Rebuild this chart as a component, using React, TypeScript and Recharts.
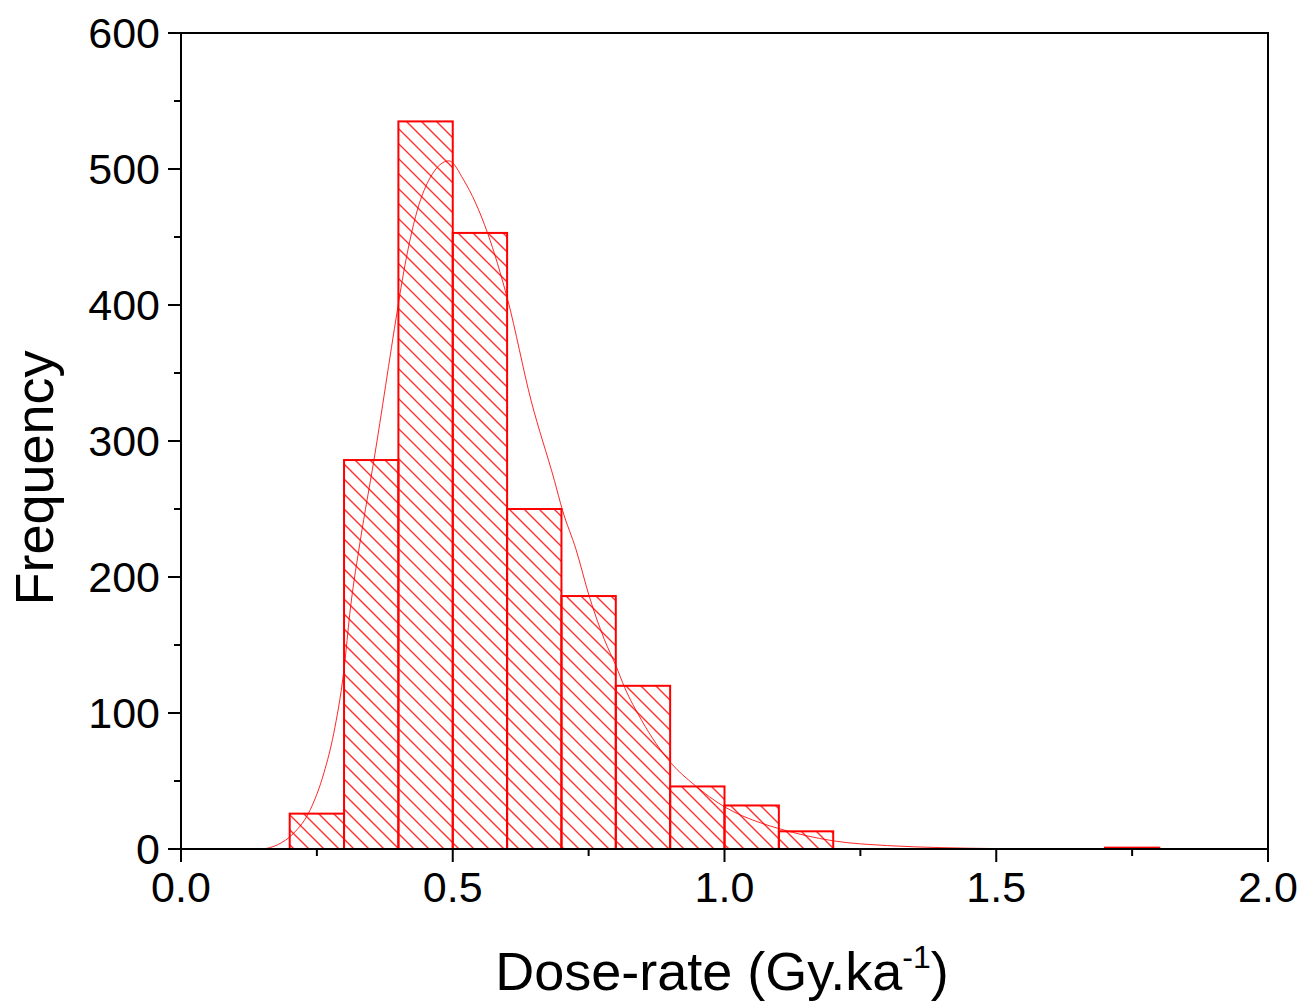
import React from 'react';
import { ComposedChart, XAxis, YAxis, Line, ReferenceArea, Label } from 'recharts';

// Histogram bins (Gy/ka) and counts
const binStarts = [0.2, 0.3, 0.4, 0.5, 0.6, 0.7, 0.8, 0.9, 1.0, 1.1, 1.7];
const binWidth = 0.1;
const counts = [26, 286, 535, 453, 250, 186, 120, 46, 32, 13, 1];

// Fitted curve
const curveX = [0.15, 0.158, 0.177, 0.207, 0.238, 0.263, 0.281, 0.299, 0.312, 0.33, 0.355, 0.398, 0.407, 0.435, 0.459, 0.493, 0.52, 0.564, 0.601, 0.644, 0.687, 0.702, 0.727, 0.751, 0.779, 0.801, 0.816, 0.847, 0.902, 0.945, 1.0, 1.068, 1.1, 1.2, 1.3, 1.4, 1.5, 1.6];
const curveY = [0, 0.5, 3, 11.5, 29, 56, 85, 129, 178, 227, 286, 396, 418, 470, 494, 506, 492, 453, 404, 330, 271, 249, 220, 186, 154, 134, 119, 95, 63, 47, 31, 19, 15, 6, 2.5, 1, 0.3, 0];

const xTicks = [0, 0.25, 0.5, 0.75, 1, 1.25, 1.5, 1.75, 2];
const yTicks = [0, 50, 100, 150, 200, 250, 300, 350, 400, 450, 500, 550, 600];

const curveData = curveX.map((x, i) => ({ x, y: curveY[i] }));
const bins = binStarts.map((s, i) => ({ x1: s, x2: +(s + binWidth).toFixed(2), y: counts[i] }));

const FONT = '"Liberation Sans", Arial, sans-serif';
const RED = '#ff0000';
const HATCH_STEP = 15;

const HatchedRect = (props: any) => {
  const { x, y, width, height, idx } = props;
  if (width == null || height == null) return null;
  const x0 = x, x1 = x + width, y0 = y, y1 = y + height;
  const clipId = `clip-bin-${idx}`;
  const lines: any[] = [];
  const cMin = Math.floor((y0 - x1) / HATCH_STEP) * HATCH_STEP;
  const cMax = Math.ceil((y1 - x0) / HATCH_STEP) * HATCH_STEP;
  for (let c = cMin; c <= cMax; c += HATCH_STEP) {
    lines.push(<line key={c} x1={x0} y1={x0 + c} x2={x1} y2={x1 + c} stroke="#ff3030" strokeWidth={1.4} />);
  }
  return (
    <g>
      <defs>
        <clipPath id={clipId}>
          <rect x={x0} y={y0} width={width} height={height} />
        </clipPath>
      </defs>
      <g clipPath={`url(#${clipId})`}>{lines}</g>
      <rect x={x0} y={y0} width={width} height={height} fill="none" stroke={RED} strokeWidth={2} />
    </g>
  );
};

const YTick = (props: any) => {
  const { x, y, payload } = props;
  const v = payload.value;
  const major = v % 100 === 0;
  return (
    <g>
      <line x1={x} x2={x - (major ? 13 : 7)} y1={y} y2={y} stroke="#000" strokeWidth={2} />
      {major && (
        <text x={x - 21} y={y} textAnchor="end" dominantBaseline="central" fontSize={43} fontFamily={FONT} fill="#000">
          {v}
        </text>
      )}
    </g>
  );
};

const XTick = (props: any) => {
  const { x, y, payload } = props;
  const v = payload.value;
  const major = Math.abs(v * 2 - Math.round(v * 2)) < 1e-6;
  return (
    <g>
      <line x1={x} x2={x} y1={y} y2={y + (major ? 13 : 7)} stroke="#000" strokeWidth={2} />
      {major && (
        <text x={x} y={y + 53} textAnchor="middle" fontSize={43} fontFamily={FONT} fill="#000">
          {v.toFixed(1)}
        </text>
      )}
    </g>
  );
};

const YTitle = () => (
  <text x={53} y={478} transform="rotate(-90 53 478)" textAnchor="middle" fontSize={54} fontFamily={FONT} fill="#000">
    Frequency
  </text>
);

const XTitle = () => (
  <text x={722} y={990} textAnchor="middle" fontSize={54} fontFamily={FONT} fill="#000">
    Dose-rate (Gy.ka
    <tspan fontSize={32} dy={-22}>-1</tspan>
    <tspan dy={22}>)</tspan>
  </text>
);

export default function App() {
  return (
    <div style={{ position: 'absolute', left: 0, top: 0, background: '#fff' }}>
      <ComposedChart
        width={1306}
        height={1007}
        data={curveData}
        margin={{ top: 33, right: 38, left: 0, bottom: 0 }}
      >
        <XAxis
          dataKey="x"
          type="number"
          domain={[0, 2]}
          ticks={xTicks}
          interval={0}
          allowDataOverflow
          height={158}
          tickSize={0}
          tickMargin={0}
          tickLine={false}
          tick={<XTick />}
          axisLine={{ stroke: '#000', strokeWidth: 2 }}
        >
          <Label content={<XTitle />} />
        </XAxis>
        <YAxis
          type="number"
          domain={[0, 600]}
          ticks={yTicks}
          interval={0}
          allowDataOverflow
          width={181}
          tickSize={0}
          tickMargin={0}
          tickLine={false}
          tick={<YTick />}
          axisLine={{ stroke: '#000', strokeWidth: 2 }}
        >
          <Label content={<YTitle />} />
        </YAxis>
        {bins.map((b, i) => (
          <ReferenceArea
            key={i}
            x1={b.x1}
            x2={b.x2}
            y1={0}
            y2={b.y}
            ifOverflow="visible"
            shape={(p: any) => <HatchedRect {...p} idx={i} />}
          />
        ))}
        <Line
          dataKey="y"
          type="monotone"
          stroke={RED}
          strokeWidth={1}
          strokeOpacity={0.85}
          dot={false}
          activeDot={false}
          isAnimationActive={false}
        />
        <ReferenceArea x1={0} x2={2} y1={0} y2={600} fill="none" stroke="#000" strokeWidth={2} ifOverflow="visible" />
      </ComposedChart>
    </div>
  );
}
